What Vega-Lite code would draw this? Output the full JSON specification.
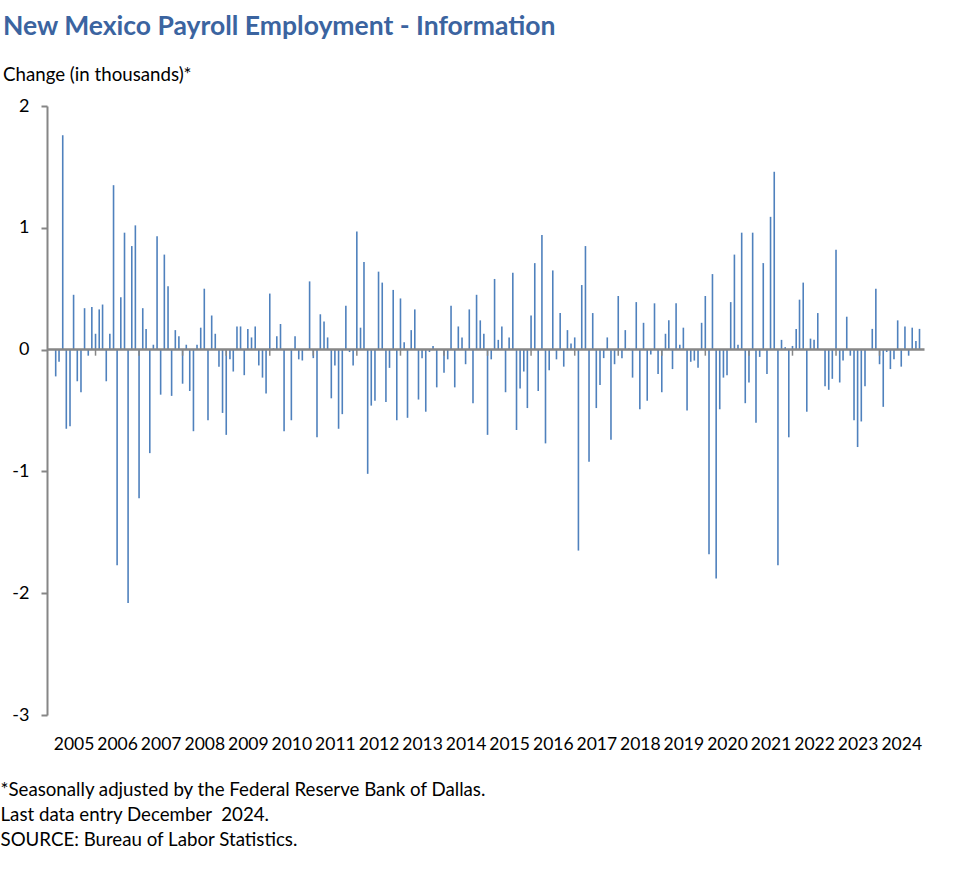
{
 "$schema": "https://vega.github.io/schema/vega-lite/v6.json",
 "width": 877.5,
 "height": 609,
 "autosize": "none",
 "padding": {"left": 47, "top": 106, "right": 54.5, "bottom": 162},
 "background": "white",
 "config": {"view": {"stroke": null}, "font": "Lato"},
 "title": {
  "text": "New Mexico Payroll Employment - Information",
  "subtitle": "Change (in thousands)*",
  "anchor": "start", "frame": "group", "dx": -44, "offset": 12,
  "font": "Lato", "fontSize": 26.5, "fontWeight": "bold", "color": "#3B64A0",
  "subtitleFont": "Lato", "subtitleFontSize": 18.7, "subtitleColor": "#000000", "subtitlePadding": 26
 },
 "datasets": {
  "emp": [
   {"d":"2005-02","v":-0.22},{"d":"2005-03","v":-0.10},{"d":"2005-04","v":1.76},{"d":"2005-05","v":-0.65},{"d":"2005-06","v":-0.63},{"d":"2005-07","v":0.45},{"d":"2005-08","v":-0.26},{"d":"2005-09","v":-0.35},{"d":"2005-10","v":0.34},{"d":"2005-11","v":-0.05},{"d":"2005-12","v":0.35},
   {"d":"2006-01","v":0.13},{"d":"2006-02","v":0.33},{"d":"2006-03","v":0.37},{"d":"2006-04","v":-0.26},{"d":"2006-05","v":0.13},{"d":"2006-06","v":1.35},{"d":"2006-07","v":-1.77},{"d":"2006-08","v":0.43},{"d":"2006-09","v":0.96},{"d":"2006-10","v":-2.08},{"d":"2006-11","v":0.85},{"d":"2006-12","v":1.02},
   {"d":"2007-01","v":-1.22},{"d":"2007-02","v":0.34},{"d":"2007-03","v":0.17},{"d":"2007-04","v":-0.85},{"d":"2007-05","v":0.04},{"d":"2007-06","v":0.93},{"d":"2007-07","v":-0.37},{"d":"2007-08","v":0.78},{"d":"2007-09","v":0.52},{"d":"2007-10","v":-0.38},{"d":"2007-11","v":0.16},{"d":"2007-12","v":0.11},
   {"d":"2008-01","v":-0.28},{"d":"2008-02","v":0.04},{"d":"2008-03","v":-0.34},{"d":"2008-04","v":-0.67},{"d":"2008-05","v":0.04},{"d":"2008-06","v":0.18},{"d":"2008-07","v":0.50},{"d":"2008-08","v":-0.58},{"d":"2008-09","v":0.28},{"d":"2008-10","v":0.13},{"d":"2008-11","v":-0.14},{"d":"2008-12","v":-0.52},
   {"d":"2009-01","v":-0.70},{"d":"2009-02","v":-0.08},{"d":"2009-03","v":-0.18},{"d":"2009-04","v":0.19},{"d":"2009-05","v":0.19},{"d":"2009-06","v":-0.21},{"d":"2009-07","v":0.17},{"d":"2009-08","v":0.10},{"d":"2009-09","v":0.19},{"d":"2009-10","v":-0.13},{"d":"2009-11","v":-0.23},{"d":"2009-12","v":-0.36},
   {"d":"2010-01","v":0.46},{"d":"2010-02","v":0.01},{"d":"2010-03","v":0.11},{"d":"2010-04","v":0.21},{"d":"2010-05","v":-0.67},{"d":"2010-06","v":0.0},{"d":"2010-07","v":-0.58},{"d":"2010-08","v":0.11},{"d":"2010-09","v":-0.08},{"d":"2010-10","v":-0.09},{"d":"2010-11","v":0.0},{"d":"2010-12","v":0.56},
   {"d":"2011-01","v":-0.07},{"d":"2011-02","v":-0.72},{"d":"2011-03","v":0.29},{"d":"2011-04","v":0.23},{"d":"2011-05","v":0.10},{"d":"2011-06","v":-0.40},{"d":"2011-07","v":-0.13},{"d":"2011-08","v":-0.65},{"d":"2011-09","v":-0.53},{"d":"2011-10","v":0.36},{"d":"2011-11","v":-0.02},{"d":"2011-12","v":-0.13},
   {"d":"2012-01","v":0.97},{"d":"2012-02","v":0.18},{"d":"2012-03","v":0.72},{"d":"2012-04","v":-1.02},{"d":"2012-05","v":-0.46},{"d":"2012-06","v":-0.42},{"d":"2012-07","v":0.64},{"d":"2012-08","v":0.55},{"d":"2012-09","v":-0.43},{"d":"2012-10","v":-0.15},{"d":"2012-11","v":0.49},{"d":"2012-12","v":-0.58},
   {"d":"2013-01","v":0.42},{"d":"2013-02","v":0.06},{"d":"2013-03","v":-0.56},{"d":"2013-04","v":0.16},{"d":"2013-05","v":0.33},{"d":"2013-06","v":-0.41},{"d":"2013-07","v":-0.07},{"d":"2013-08","v":-0.51},{"d":"2013-09","v":-0.02},{"d":"2013-10","v":0.03},{"d":"2013-11","v":-0.31},{"d":"2013-12","v":0.0},
   {"d":"2014-01","v":-0.19},{"d":"2014-02","v":-0.08},{"d":"2014-03","v":0.36},{"d":"2014-04","v":-0.31},{"d":"2014-05","v":0.19},{"d":"2014-06","v":0.10},{"d":"2014-07","v":-0.12},{"d":"2014-08","v":0.33},{"d":"2014-09","v":-0.44},{"d":"2014-10","v":0.45},{"d":"2014-11","v":0.24},{"d":"2014-12","v":0.13},
   {"d":"2015-01","v":-0.70},{"d":"2015-02","v":-0.08},{"d":"2015-03","v":0.58},{"d":"2015-04","v":0.08},{"d":"2015-05","v":0.19},{"d":"2015-06","v":-0.35},{"d":"2015-07","v":0.10},{"d":"2015-08","v":0.63},{"d":"2015-09","v":-0.66},{"d":"2015-10","v":-0.32},{"d":"2015-11","v":-0.18},{"d":"2015-12","v":-0.48},
   {"d":"2016-01","v":0.28},{"d":"2016-02","v":0.71},{"d":"2016-03","v":-0.34},{"d":"2016-04","v":0.94},{"d":"2016-05","v":-0.77},{"d":"2016-06","v":-0.17},{"d":"2016-07","v":0.65},{"d":"2016-08","v":-0.08},{"d":"2016-09","v":0.30},{"d":"2016-10","v":-0.14},{"d":"2016-11","v":0.16},{"d":"2016-12","v":0.05},
   {"d":"2017-01","v":0.10},{"d":"2017-02","v":-1.65},{"d":"2017-03","v":0.53},{"d":"2017-04","v":0.85},{"d":"2017-05","v":-0.92},{"d":"2017-06","v":0.30},{"d":"2017-07","v":-0.48},{"d":"2017-08","v":-0.29},{"d":"2017-09","v":-0.07},{"d":"2017-10","v":0.10},{"d":"2017-11","v":-0.74},{"d":"2017-12","v":-0.12},
   {"d":"2018-01","v":0.44},{"d":"2018-02","v":-0.07},{"d":"2018-03","v":0.16},{"d":"2018-04","v":0.01},{"d":"2018-05","v":-0.23},{"d":"2018-06","v":0.39},{"d":"2018-07","v":-0.49},{"d":"2018-08","v":0.22},{"d":"2018-09","v":-0.42},{"d":"2018-10","v":-0.04},{"d":"2018-11","v":0.38},{"d":"2018-12","v":-0.20},
   {"d":"2019-01","v":-0.35},{"d":"2019-02","v":0.13},{"d":"2019-03","v":0.24},{"d":"2019-04","v":-0.16},{"d":"2019-05","v":0.38},{"d":"2019-06","v":0.04},{"d":"2019-07","v":0.18},{"d":"2019-08","v":-0.50},{"d":"2019-09","v":-0.10},{"d":"2019-10","v":-0.09},{"d":"2019-11","v":-0.15},{"d":"2019-12","v":0.22},
   {"d":"2020-01","v":0.44},{"d":"2020-02","v":-1.68},{"d":"2020-03","v":0.62},{"d":"2020-04","v":-1.88},{"d":"2020-05","v":-0.49},{"d":"2020-06","v":-0.23},{"d":"2020-07","v":-0.21},{"d":"2020-08","v":0.39},{"d":"2020-09","v":0.78},{"d":"2020-10","v":0.04},{"d":"2020-11","v":0.96},{"d":"2020-12","v":-0.44},
   {"d":"2021-01","v":-0.27},{"d":"2021-02","v":0.96},{"d":"2021-03","v":-0.60},{"d":"2021-04","v":-0.06},{"d":"2021-05","v":0.71},{"d":"2021-06","v":-0.20},{"d":"2021-07","v":1.09},{"d":"2021-08","v":1.46},{"d":"2021-09","v":-1.77},{"d":"2021-10","v":0.08},{"d":"2021-11","v":0.02},{"d":"2021-12","v":-0.72},
   {"d":"2022-01","v":0.03},{"d":"2022-02","v":0.17},{"d":"2022-03","v":0.41},{"d":"2022-04","v":0.55},{"d":"2022-05","v":-0.51},{"d":"2022-06","v":0.09},{"d":"2022-07","v":0.08},{"d":"2022-08","v":0.30},{"d":"2022-09","v":0.0},{"d":"2022-10","v":-0.30},{"d":"2022-11","v":-0.33},{"d":"2022-12","v":-0.24},
   {"d":"2023-01","v":0.82},{"d":"2023-02","v":-0.27},{"d":"2023-03","v":-0.09},{"d":"2023-04","v":0.27},{"d":"2023-05","v":-0.05},{"d":"2023-06","v":-0.58},{"d":"2023-07","v":-0.80},{"d":"2023-08","v":-0.59},{"d":"2023-09","v":-0.30},{"d":"2023-10","v":0.0},{"d":"2023-11","v":0.17},{"d":"2023-12","v":0.50},
   {"d":"2024-01","v":-0.12},{"d":"2024-02","v":-0.47},{"d":"2024-03","v":-0.02},{"d":"2024-04","v":-0.16},{"d":"2024-05","v":-0.08},{"d":"2024-06","v":0.24},{"d":"2024-07","v":-0.14},{"d":"2024-08","v":0.19},{"d":"2024-09","v":-0.05},{"d":"2024-10","v":0.18},{"d":"2024-11","v":0.07},{"d":"2024-12","v":0.17}
  ],
  "jan": [
   {"d":"2006-01"},{"d":"2007-01"},{"d":"2008-01"},{"d":"2009-01"},{"d":"2010-01"},{"d":"2011-01"},{"d":"2012-01"},{"d":"2013-01"},{"d":"2014-01"},{"d":"2015-01"},
   {"d":"2016-01"},{"d":"2017-01"},{"d":"2018-01"},{"d":"2019-01"},{"d":"2020-01"},{"d":"2021-01"},{"d":"2022-01"},{"d":"2023-01"},{"d":"2024-01"}
  ]
 },
 "layer": [
  {
   "data": {"name": "emp"},
   "mark": {"type": "bar", "width": 1.6, "color": "#4F81BD"},
   "encoding": {
    "x": {
     "field": "d", "type": "temporal",
     "scale": {"type": "utc", "domain": [{"year": 2005, "month": 1, "date": 1, "utc": true}, {"year": 2024, "month": 12, "date": 1, "utc": true}]},
     "axis": {
      "values": [
       {"year": 2005, "month": 7, "date": 1, "utc": true},{"year": 2006, "month": 7, "date": 1, "utc": true},{"year": 2007, "month": 7, "date": 1, "utc": true},{"year": 2008, "month": 7, "date": 1, "utc": true},
       {"year": 2009, "month": 7, "date": 1, "utc": true},{"year": 2010, "month": 7, "date": 1, "utc": true},{"year": 2011, "month": 7, "date": 1, "utc": true},{"year": 2012, "month": 7, "date": 1, "utc": true},
       {"year": 2013, "month": 7, "date": 1, "utc": true},{"year": 2014, "month": 7, "date": 1, "utc": true},{"year": 2015, "month": 7, "date": 1, "utc": true},{"year": 2016, "month": 7, "date": 1, "utc": true},
       {"year": 2017, "month": 7, "date": 1, "utc": true},{"year": 2018, "month": 7, "date": 1, "utc": true},{"year": 2019, "month": 7, "date": 1, "utc": true},{"year": 2020, "month": 7, "date": 1, "utc": true},
       {"year": 2021, "month": 7, "date": 1, "utc": true},{"year": 2022, "month": 7, "date": 1, "utc": true},{"year": 2023, "month": 7, "date": 1, "utc": true},{"year": 2024, "month": 7, "date": 1, "utc": true}
      ],
      "labelExpr": "utcFormat(datum.value, '%Y')",
      "domain": false, "ticks": false, "tickSize": 0, "grid": false,
      "labelFont": "Lato", "labelFontSize": 17.5, "labelColor": "#000000", "labelPadding": 20,
      "labelOverlap": false, "labelFlush": false, "labelBound": false,
      "title": ["*Seasonally adjusted by the Federal Reserve Bank of Dallas.", "Last data entry December\u00a0 2024.", "SOURCE: Bureau of Labor Statistics."],
      "titleFont": "Lato", "titleFontSize": 18.7, "titleFontWeight": "normal", "titleColor": "#000000",
      "titleAnchor": "start", "titleAlign": "left", "titleBaseline": "alphabetic",
      "titleX": -47, "titleY": 80, "titleLineHeight": 25
     }
    },
    "y": {
     "field": "v", "type": "quantitative",
     "scale": {"domain": [-3, 2], "nice": false, "zero": false},
     "axis": {
      "values": [-3, -2, -1, 0, 1, 2], "title": null, "grid": false,
      "labelExpr": "'' + datum.value",
      "domainColor": "#868686", "domainWidth": 2, "tickColor": "#868686", "tickWidth": 2, "tickSize": 6,
      "labelFont": "Lato", "labelFontSize": 18, "labelColor": "#000000", "labelPadding": 12, "zindex": 1
     }
    }
   }
  },
  {
   "data": {"name": "jan"},
   "mark": {"type": "rule", "color": "#868686", "strokeWidth": 1.5},
   "encoding": {"x": {"field": "d", "type": "temporal"}, "y": {"datum": 0}, "y2": {"datum": -0.05}}
  },
  {
   "data": {"values": [{}]},
   "mark": {"type": "rule", "color": "#868686", "strokeWidth": 2.5},
   "encoding": {"y": {"datum": 0}}
  }
 ]
}
